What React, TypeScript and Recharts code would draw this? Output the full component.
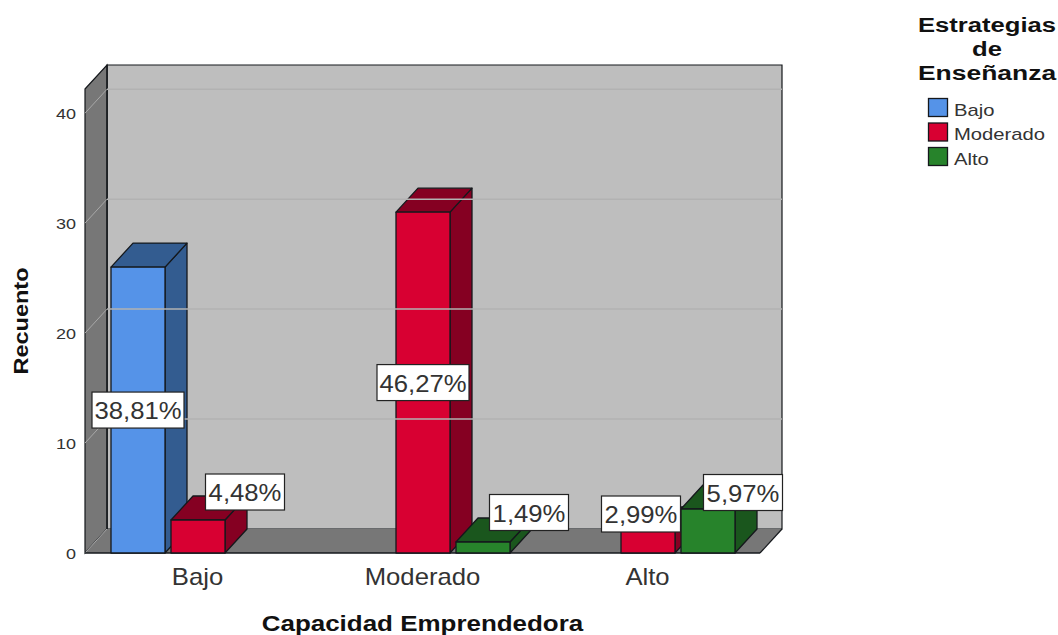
import React from "react";
import { BarChart, Bar, XAxis, YAxis, Legend, LabelList, Label, ReferenceArea, ReferenceLine } from "recharts";

const categories = ["Bajo", "Moderado", "Alto"];
const bajoValues = [26, null, null];
const moderadoValues = [3, 31, 2];
const altoValues = [null, 1, 4];
const bajoPct = ["38,81%", null, null];
const moderadoPct = ["4,48%", "46,27%", "2,99%"];
const altoPct = [null, "1,49%", "5,97%"];
const yTicks = [0, 10, 20, 30, 40];
const gridValues = [10, 20, 30, 40];
const seriesNames = ["Bajo", "Moderado", "Alto"];
const Y_MAX = 42.2;

const table = categories.map((c, i) => ({
  cat: c,
  bajo: bajoValues[i],
  moderado: moderadoValues[i],
  alto: altoValues[i],
  bajoPct: bajoPct[i],
  moderadoPct: moderadoPct[i],
  altoPct: altoPct[i],
}));

const FONT = "'Liberation Sans', Arial, sans-serif";
const DX = 22;
const DY = -24;
const INK = "#15181c";
const COLORS = {
  bajo: { front: "#5593E8", dark: "#335C90" },
  moderado: { front: "#D80032", dark: "#850022" },
  alto: { front: "#27832B", dark: "#1A561D" },
};
// manual label displacement from the bar centre, keyed by the label it moves
const NUDGE: Record<string, number[]> = {
  "4,48%": [47, -44.5],
  "2,99%": [-7, -28],
  "1,49%": [46, -35],
  "5,97%": [35, -38.5],
};

const Txt = ({ x, y, size, sx = 1.07, anchor = "middle", bold = false, fill = "#333", rotate = 0, children }: any) => (
  <text
    transform={`translate(${x} ${y}) rotate(${rotate}) scale(${sx} 1)`}
    textAnchor={anchor}
    fontFamily={FONT}
    fontSize={size}
    fontWeight={bold ? 700 : 400}
    fill={fill}
  >
    {children}
  </text>
);

const Walls = ({ x, y, width, height }: any) => {
  const l = x, r = x + width, t = y, b = y + height;
  return (
    <g>
      <polygon points={`${l + DX},${t + DY} ${r + DX},${t + DY} ${r + DX},${b + DY} ${l + DX},${b + DY}`} fill="#BEBEBE" stroke={INK} strokeWidth={1.2} />
      <polygon points={`${l},${t} ${l + DX},${t + DY} ${l + DX},${b + DY} ${l},${b}`} fill="#777777" stroke={INK} strokeWidth={1.2} />
      <polygon points={`${l},${b} ${l + DX},${b + DY} ${r + DX},${b + DY} ${r},${b}`} fill="#777777" stroke="none" />
      <line x1={l} y1={b} x2={l + DX} y2={b + DY} stroke="#aaaaaa" strokeWidth={1} />
      <line x1={l + DX} y1={t + DY} x2={l + DX} y2={b + DY} stroke={INK} strokeWidth={1.2} />
      <line x1={r} y1={b} x2={r + DX} y2={b + DY} stroke={INK} strokeWidth={1.2} />
      <line x1={l} y1={b} x2={r} y2={b} stroke={INK} strokeWidth={1.4} />
    </g>
  );
};

const GridLine = ({ x1, y1, x2, y2 }: any) => (
  <g>
    <line x1={x1} y1={y1} x2={x1 + DX} y2={y1 + DY} stroke="#a8a8a8" strokeWidth={1} />
    <line x1={x1 + DX} y1={y1 + DY} x2={x2 + DX} y2={y2 + DY} stroke="#b2b2b2" strokeWidth={1.5} />
  </g>
);

const box3d = (c: { front: string; dark: string }) => (p: any) => {
  const { x, y, width, height } = p;
  if (!height || height <= 0) return <g />;
  const r = x + width, b = y + height;
  return (
    <g stroke={INK} strokeWidth={1.3} strokeLinejoin="round">
      <polygon points={`${r},${y} ${r + DX},${y + DY} ${r + DX},${b + DY} ${r},${b}`} fill={c.dark} />
      <polygon points={`${x},${y} ${x + DX},${y + DY} ${r + DX},${y + DY} ${r},${y}`} fill={c.dark} />
      <rect x={x} y={y} width={width} height={height} fill={c.front} />
    </g>
  );
};

const pctLabel = (p: any) => {
  const { x, y, width, height, value } = p;
  if (value == null) return null;
  const w = String(value).length > 5 ? 92 : 79;
  const n = NUDGE[value] || [0, 0];
  const cx = x + width / 2 + n[0];
  const cy = y + height / 2 + n[1];
  return (
    <g>
      <rect x={cx - w / 2} y={cy - 18} width={w} height={36} fill="#fff" stroke="#222" strokeWidth={1.2} />
      <Txt x={cx} y={cy + 9} size={24}>{value}</Txt>
    </g>
  );
};

const XTick = ({ x, y, payload }: any) => <Txt x={x} y={y + 24} size={24}>{payload.value}</Txt>;
const YTick = ({ x, y, payload }: any) => <Txt x={76} y={y + 6} size={15} anchor="end" sx={1.2}>{payload.value}</Txt>;

const XTitle = ({ viewBox }: any) => (
  <Txt x={viewBox.x + viewBox.width / 2} y={631} size={22} bold sx={1.18} fill="#111">Capacidad Emprendedora</Txt>
);
const YTitle = ({ viewBox }: any) => (
  <Txt x={28} y={viewBox.y + viewBox.height / 2} size={21} bold rotate={-90} sx={1.12} fill="#111">Recuento</Txt>
);

const seriesColors = [COLORS.bajo, COLORS.moderado, COLORS.alto];
const LegendBox = () => (
  <svg width={158} height={175} style={{ display: "block" }}>
    <Txt x={87} y={32} size={21} bold sx={1.22} fill="#111">Estrategias</Txt>
    <Txt x={87} y={56} size={21} bold sx={1.22} fill="#111">de</Txt>
    <Txt x={87} y={80} size={21} bold sx={1.26} fill="#111">Enseñanza</Txt>
    {seriesNames.map((n, i) => (
      <g key={n}>
        <rect x={28.5} y={98.5 + i * 24.5} width={19} height={18} fill={seriesColors[i].front} stroke={INK} strokeWidth={1.3} />
        <Txt x={54} y={115.5 + i * 24.5} size={17} anchor="start" sx={1.19}>{n}</Txt>
      </g>
    ))}
  </svg>
);

export default function App() {
  return (
    <div style={{ position: "absolute", left: 0, top: 0, width: 1058, height: 635, background: "#fff" }}>
      <BarChart
        width={1058}
        height={635}
        data={table}
        barSize={54}
        barGap={6}
        margin={{ top: 89, right: 298, bottom: 0, left: 0 }}
      >
        <ReferenceArea y1={0} y2={Y_MAX} shape={Walls} ifOverflow="visible" />
        {gridValues.map((v) => (
          <ReferenceLine key={v} y={v} shape={GridLine} ifOverflow="visible" />
        ))}
        <XAxis dataKey="cat" height={82} axisLine={false} tickLine={false} tick={XTick} interval={0}>
          <Label content={XTitle} />
        </XAxis>
        <YAxis width={85} type="number" domain={[0, Y_MAX]} ticks={yTicks} axisLine={false} tickLine={false} tick={YTick}>
          <Label content={YTitle} />
        </YAxis>
        <Legend
          layout="horizontal"
          verticalAlign="middle"
          align="center"
          content={LegendBox}
          wrapperStyle={{ position: "absolute", left: 900, top: 0, width: 158, height: 175 }}
        />
        <Bar dataKey="bajo" name="Bajo" isAnimationActive={false} fill={COLORS.bajo.front} shape={box3d(COLORS.bajo)}>
          <LabelList dataKey="bajoPct" content={pctLabel} />
        </Bar>
        <Bar dataKey="moderado" name="Moderado" isAnimationActive={false} fill={COLORS.moderado.front} shape={box3d(COLORS.moderado)}>
          <LabelList dataKey="moderadoPct" content={pctLabel} />
        </Bar>
        <Bar dataKey="alto" name="Alto" isAnimationActive={false} fill={COLORS.alto.front} shape={box3d(COLORS.alto)}>
          <LabelList dataKey="altoPct" content={pctLabel} />
        </Bar>
      </BarChart>
    </div>
  );
}
